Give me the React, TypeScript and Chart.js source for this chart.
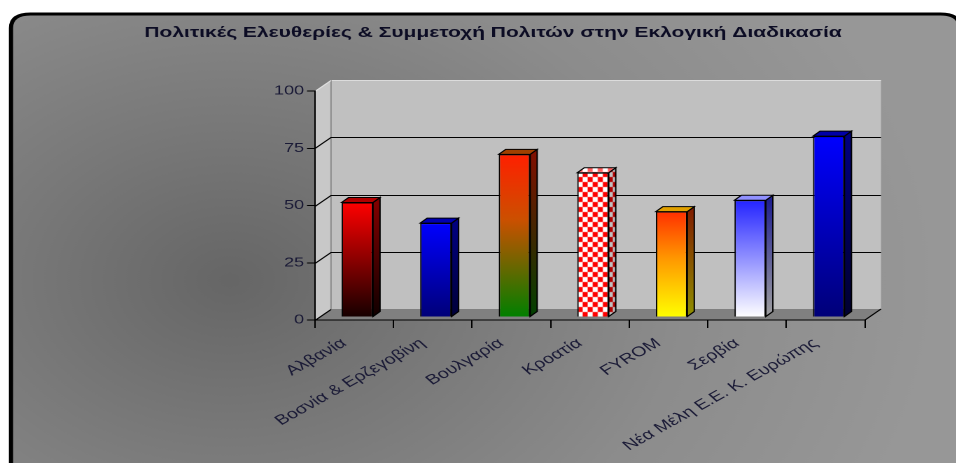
import React, { useEffect, useRef } from "react";
import { Chart, registerables } from "chart.js";

Chart.register(...registerables);

const TITLE = "Πολιτικές Ελευθερίες & Συμμετοχή Πολιτών στην Εκλογική Διαδικασία";
const categories = [
  "Αλβανία",
  "Βοσνία & Ερζεγοβίνη",
  "Βουλγαρία",
  "Κροατία",
  "FYROM",
  "Σερβία",
  "Νέα Μέλη Ε.Ε. Κ. Ευρώπης",
];
const values = [50, 41, 71, 63, 46, 51, 79];
const yMin = 0;
const yMax = 100;
const yStep = 25;

// colours per bar: front gradient top/bottom, side gradient top/bottom, top face
const frontTop = ["#ff0000", "#0000ff", "#ff2000", "#ff0000", "#ff3000", "#2424ff", "#0000ff"];
const frontBottom = ["#160000", "#000078", "#008000", "#ffffff", "#ffff00", "#ffffff", "#000078"];
const sideTop = ["#800000", "#000080", "#801000", "#b00000", "#802000", "#202090", "#000080"];
const sideBottom = ["#100000", "#000038", "#004000", "#c0c0c0", "#909000", "#a0a0a0", "#000030"];
const topFace = ["#b00000", "#0000b0", "#a04000", "#ff6060", "#e0a000", "#9090ff", "#0000a8"];
const CHECK_INDEX = 3;

const W = 956;
const H = 463;
const S = 1.4; // horizontal stretch of the whole picture
const CW = Math.round(W / S);
const sx = (v: number) => v / S;

// layout (screen px)
const AXIS_LEFT = 315;
const AXIS_RIGHT = 865;
const AREA_TOP = 91;
const AREA_BOTTOM = 320;
const DEPTH_X = sx(16);
const DEPTH_Y = -11;
const BAR_SHIFT_X = sx(3);
const BAR_SHIFT_Y = -3;
const BAR_DX = sx(7);
const BAR_DY = 5;
const LABEL_DX = sx(-10);
const FONT = "'Liberation Sans', Arial, sans-serif";

function makeCheck(ctx: CanvasRenderingContext2D, a: string, b: string) {
  const pc = document.createElement("canvas");
  pc.width = 8;
  pc.height = 10;
  const p = pc.getContext("2d")!;
  p.fillStyle = b;
  p.fillRect(0, 0, 8, 10);
  p.fillStyle = a;
  p.fillRect(0, 0, 4, 5);
  p.fillRect(4, 5, 4, 5);
  const pat = ctx.createPattern(pc, "repeat")!;
  try {
    pat.setTransform(new DOMMatrix([0.9, 0, 0, 1, 0, 0]));
  } catch (e) {}
  return pat;
}

const backgroundPlugin = {
  id: "bg3d",
  beforeDraw(chart: any) {
    const ctx: CanvasRenderingContext2D = chart.ctx;
    const { left, right, top, bottom } = chart.chartArea;
    ctx.save();
    ctx.fillStyle = "#ffffff";
    ctx.fillRect(0, 0, CW, H);
    // outer rounded panel
    const fx = sx(11);
    const fy = 14;
    const r = 14;
    const fw = sx(960) - fx;
    const fh = H + 40;
    ctx.beginPath();
    ctx.moveTo(fx + r, fy);
    ctx.lineTo(fx + fw - r, fy);
    ctx.quadraticCurveTo(fx + fw, fy, fx + fw, fy + r);
    ctx.lineTo(fx + fw, fy + fh);
    ctx.lineTo(fx, fy + fh);
    ctx.lineTo(fx, fy + r);
    ctx.quadraticCurveTo(fx, fy, fx + r, fy);
    ctx.closePath();
    const g = ctx.createRadialGradient(sx(230), 280, 0, sx(230), 280, 500);
    g.addColorStop(0, "#666666");
    g.addColorStop(0.3, "#787878");
    g.addColorStop(0.65, "#8c8c8c");
    g.addColorStop(1, "#979797");
    ctx.fillStyle = g;
    ctx.fill();
    ctx.lineWidth = 3;
    ctx.strokeStyle = "#000000";
    ctx.stroke();

    // title
    ctx.fillStyle = "#0c0c24";
    ctx.font = `bold 15px ${FONT}`;
    ctx.textAlign = "center";
    ctx.textBaseline = "middle";
    ctx.fillText(TITLE, sx(493), 33);

    // left side wall
    ctx.beginPath();
    ctx.moveTo(left, top);
    ctx.lineTo(left + DEPTH_X, top + DEPTH_Y);
    ctx.lineTo(left + DEPTH_X, bottom + DEPTH_Y);
    ctx.lineTo(left, bottom);
    ctx.closePath();
    ctx.fillStyle = "#c8c8c8";
    ctx.fill();
    // back wall
    ctx.fillStyle = "#c0c0c0";
    ctx.fillRect(left + DEPTH_X, top + DEPTH_Y, right - left, bottom - top);
    ctx.lineWidth = 1;
    ctx.strokeStyle = "#dcdcdc";
    ctx.beginPath();
    ctx.moveTo(left + DEPTH_X, top + DEPTH_Y + 0.5);
    ctx.lineTo(right + DEPTH_X, top + DEPTH_Y + 0.5);
    ctx.stroke();
    ctx.strokeStyle = "#8c8c8c";
    ctx.beginPath();
    ctx.moveTo(left + DEPTH_X, top + DEPTH_Y);
    ctx.lineTo(left + DEPTH_X, bottom + DEPTH_Y);
    ctx.stroke();
    // floor
    ctx.beginPath();
    ctx.moveTo(left, bottom);
    ctx.lineTo(right, bottom);
    ctx.lineTo(right + DEPTH_X, bottom + DEPTH_Y);
    ctx.lineTo(left + DEPTH_X, bottom + DEPTH_Y);
    ctx.closePath();
    ctx.fillStyle = "#808080";
    ctx.fill();
    ctx.strokeStyle = "#000000";
    ctx.beginPath();
    ctx.moveTo(right, bottom);
    ctx.lineTo(right + DEPTH_X, bottom + DEPTH_Y);
    ctx.stroke();
    // grid lines on the walls
    const ys = chart.scales.y;
    for (let v = yMin; v <= yMax; v += yStep) {
      const py = Math.round(ys.getPixelForValue(v)) + 0.5;
      ctx.strokeStyle = v === yMax ? "#e0e0e0" : "#000000";
      ctx.beginPath();
      ctx.moveTo(left, py);
      ctx.lineTo(left + DEPTH_X, py + DEPTH_Y);
      if (v !== yMin && v !== yMax) ctx.lineTo(right + DEPTH_X, py + DEPTH_Y);
      ctx.stroke();
    }
    ctx.restore();
  },
  beforeDatasetsDraw(chart: any) {
    chart.ctx.save();
    chart.ctx.translate(BAR_SHIFT_X, BAR_SHIFT_Y);
  },
  afterDatasetsDraw(chart: any) {
    const ctx: CanvasRenderingContext2D = chart.ctx;
    const meta = chart.getDatasetMeta(0);
    meta.data.forEach((bar: any, i: number) => {
      const p = bar.getProps(["x", "y", "base", "width"], true);
      const l = p.x - p.width / 2;
      const r = p.x + p.width / 2;
      const t = p.y;
      const b = p.base;
      ctx.lineWidth = 1;
      ctx.strokeStyle = "#000000";
      // side
      ctx.beginPath();
      ctx.moveTo(r, t);
      ctx.lineTo(r + BAR_DX, t - BAR_DY);
      ctx.lineTo(r + BAR_DX, b - BAR_DY);
      ctx.lineTo(r, b);
      ctx.closePath();
      if (i === CHECK_INDEX) {
        ctx.fillStyle = makeCheck(ctx, sideTop[i], sideBottom[i]);
      } else {
        const g = ctx.createLinearGradient(0, t, 0, b);
        g.addColorStop(0, sideTop[i]);
        g.addColorStop(1, sideBottom[i]);
        ctx.fillStyle = g;
      }
      ctx.fill();
      ctx.stroke();
      // top
      ctx.beginPath();
      ctx.moveTo(l, t);
      ctx.lineTo(l + BAR_DX, t - BAR_DY);
      ctx.lineTo(r + BAR_DX, t - BAR_DY);
      ctx.lineTo(r, t);
      ctx.closePath();
      ctx.fillStyle = i === CHECK_INDEX ? makeCheck(ctx, topFace[i], "#ffffff") : topFace[i];
      ctx.fill();
      ctx.stroke();
    });
    ctx.restore();
  },
};

export default function App() {
  const ref = useRef<HTMLCanvasElement | null>(null);
  useEffect(() => {
    document.body.style.margin = "0";
    document.body.style.overflow = "hidden";
    const canvas = ref.current!;
    const chart = new Chart(canvas, {
      type: "bar",
      data: {
        labels: categories,
        datasets: [
          {
            data: values,
            borderColor: "#000000",
            borderWidth: 1,
            barPercentage: 0.4,
            categoryPercentage: 1,
            backgroundColor: (c: any) => {
              const ch = c.chart;
              const i = c.dataIndex;
              if (!ch.chartArea || c.type !== "data") return frontTop[i] || "#888";
              if (i === CHECK_INDEX) return makeCheck(ch.ctx, frontTop[i], frontBottom[i]);
              const ys = ch.scales.y;
              const t = ys.getPixelForValue(values[i]);
              const b = ys.getPixelForValue(0);
              const g = ch.ctx.createLinearGradient(0, t, 0, b);
              g.addColorStop(0, frontTop[i]);
              if (i === 2) g.addColorStop(0.4, "#cc5000");
              if (i === 4) g.addColorStop(0.45, "#ff9900");
              g.addColorStop(1, frontBottom[i]);
              return g;
            },
          },
        ],
      },
      options: {
        responsive: false,
        animation: false,
        devicePixelRatio: 2,
        events: [],
        layout: {
          padding: { top: AREA_TOP, left: 0, right: CW - sx(AXIS_RIGHT), bottom: 0 },
        },
        plugins: {
          legend: { display: false },
          tooltip: { enabled: false },
          title: { display: false },
        },
        scales: {
          x: {
            grid: {
              display: true,
              drawOnChartArea: false,
              drawTicks: true,
              tickLength: 8,
              color: "#000000",
            },
            border: { display: true, color: "#000000", width: 1 },
            ticks: {
              color: "#1a1a36",
              minRotation: 38,
              maxRotation: 38,
              autoSkip: false,
              padding: 7,
              font: { family: FONT, size: 14 },
            },
            afterFit: (s: any) => {
              s.height = H - AREA_BOTTOM;
            },
          },
          y: {
            min: yMin,
            max: yMax,
            grid: {
              display: true,
              drawOnChartArea: false,
              drawTicks: true,
              tickLength: sx(8),
              color: "#000000",
            },
            border: { display: true, color: "#000000", width: 1 },
            ticks: {
              stepSize: yStep,
              color: "#1a1a36",
              padding: 2,
              font: { family: FONT, size: 13 },
            },
            afterFit: (s: any) => {
              s.width = sx(AXIS_LEFT);
            },
          },
        },
      } as any,
      plugins: [backgroundPlugin],
    });
    // shift the rotated category labels slightly left, as in the reference
    const xs: any = chart.scales.x;
    const origDrawLabels = xs.drawLabels.bind(xs);
    xs.drawLabels = (area: any) => {
      const c = xs.ctx;
      c.save();
      c.translate(LABEL_DX, 0);
      origDrawLabels(area);
      c.restore();
    };
    chart.draw();
    return () => chart.destroy();
  }, []);

  return (
    <div style={{ width: W, height: H, overflow: "hidden", position: "relative" }}>
      <div style={{ width: CW, height: H, transform: `scaleX(${S})`, transformOrigin: "0 0" }}>
        <canvas ref={ref} width={CW} height={H} style={{ width: CW, height: H, display: "block" }} />
      </div>
    </div>
  );
}
